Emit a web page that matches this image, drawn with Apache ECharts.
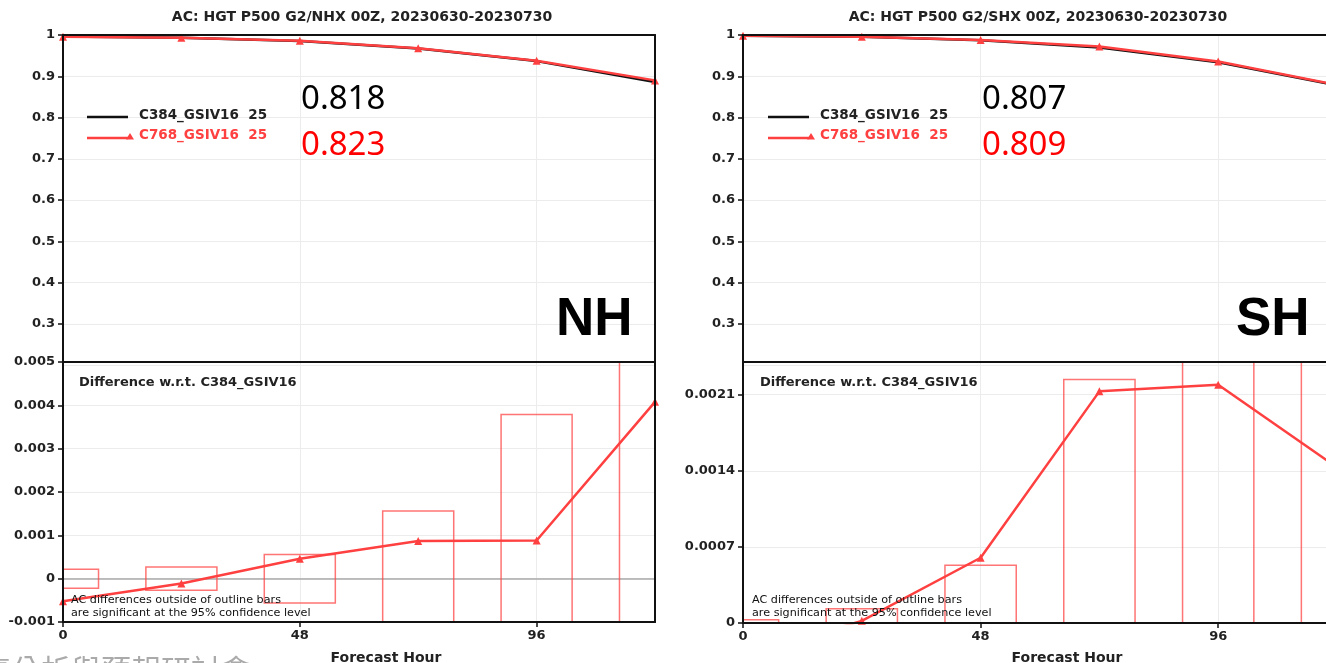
<!DOCTYPE html>
<html>
<head>
<meta charset="utf-8">
<script src="https://cdn.jsdelivr.net/npm/echarts@6/dist/echarts.min.js"></script>
<style>html,body{margin:0;padding:0;background:#fff;}#chart{width:1326px;height:663px;}</style>
</head>
<body>
<div id="chart"></div>
<script>
// ---------- data ----------
const hours = [0, 24, 48, 72, 96, 120];
const nhC384 = [0.9965, 0.9936, 0.9855, 0.9671, 0.9367, 0.8859];
const nhC768 = [0.9960, 0.9935, 0.9860, 0.9680, 0.9376, 0.8900];
const nhDiff = [-0.00052, -0.00011, 0.00046, 0.00087, 0.00088, 0.00408];
const nhSig  = [0.00022, 0.00027, 0.00056, 0.00156, 0.00379, 0.0056];
const shC384 = [0.9983, 0.9960, 0.9874, 0.9699, 0.9338, 0.8776];
const shC768 = [0.9980, 0.9960, 0.9880, 0.9720, 0.9360, 0.8790];
const shDiff = [-0.0003, 0.00002, 0.00060, 0.00213, 0.00219, 0.00143];
const shSig  = [0.00003, 0.00013, 0.00053, 0.00224, 0.0030, 0.0030];
const xTicks = [0, 48, 96];
const acTicks = [0.3, 0.4, 0.5, 0.6, 0.7, 0.8, 0.9, 1];
const nhDiffTicks = [-0.001, 0, 0.001, 0.002, 0.003, 0.004, 0.005];
const shDiffTicks = [0, 0.0007, 0.0014, 0.0021];
const nhTitle = 'AC: HGT P500 G2/NHX 00Z, 20230630-20230730';
const shTitle = 'AC: HGT P500 G2/SHX 00Z, 20230630-20230730';
const seriesNames = ['C384_GSIV16  25', 'C768_GSIV16  25'];
const nhScores = ['0.818', '0.823'];
const shScores = ['0.807', '0.809'];
const diffLabel = 'Difference w.r.t. C384_GSIV16';
const noteLines = ['AC differences outside of outline bars', 'are significant at the 95% confidence level'];
const xName = 'Forecast Hour';
const footer = '氣分析與預報研討會';

// ---------- style ----------
const RED = '#ff4040';
const BAR_RED = 'rgba(255,70,70,0.75)';
const TICK_FONT = 'DejaVu Sans';
const BAR_HALF = 7.2;

const zip = (a, b) => a.map((v, i) => [v, b[i]]);
const fmt = v => String(Math.round(v * 1e6) / 1e6);

const chart = echarts.init(document.getElementById('chart'), null, {renderer: 'canvas'});

const grids = [
  {left: 63, top: 35, width: 592, height: 330},
  {left: 63, top: 362, width: 592, height: 260},
  {left: 743, top: 35, width: 594, height: 330},
  {left: 743, top: 362, width: 594, height: 261}
].map(g => Object.assign({outerBoundsMode: 'none', containLabel: false, show: false}, g));

const axisLineBlack = {show: true, onZero: false, lineStyle: {color: '#111', width: 2}};
const split = {show: true, lineStyle: {color: '#ececec', width: 1}};
const labelStyle = {color: '#222', fontFamily: TICK_FONT, fontWeight: 'bold', fontSize: 13};
const tickStyle = {show: true, inside: false, length: 5, lineStyle: {color: '#111', width: 1.5}};
const none = {show: false};

// axis index layout per grid: x: [main, top border, split], y: [main, right border, split]
const xAxes = [], yAxes = [];
[0, 1, 2, 3].forEach(gi => {
  const isTop = gi % 2 === 0;
  const xBase = {gridIndex: gi, type: 'value', min: 0, max: 120, interval: 48};
  xAxes.push(Object.assign({}, xBase, {
    position: 'bottom', z: 10,
    axisLine: isTop ? {show: false, onZero: false} : axisLineBlack,
    axisTick: isTop ? none : Object.assign({customValues: xTicks}, tickStyle),
    axisLabel: isTop ? none : Object.assign({margin: 7, customValues: xTicks, formatter: v => fmt(v)}, labelStyle),
    splitLine: none
  }));
  xAxes.push(Object.assign({}, xBase, {position: 'top', z: 10,
    axisLine: axisLineBlack, axisTick: none, axisLabel: none, splitLine: none}));
  xAxes.push(Object.assign({}, xBase, {position: 'bottom', z: 0,
    axisLine: {show: false, onZero: false}, axisTick: none, axisLabel: none, splitLine: split}));

  let yCfg;
  if (isTop) yCfg = {min: 0.2, max: 1, interval: 0.1, ticks: acTicks};
  else if (gi === 1) yCfg = {min: -0.001, max: 0.005, interval: 0.001, ticks: nhDiffTicks};
  else yCfg = {min: 0, max: 0.0024, interval: 0.0007, ticks: shDiffTicks};
  const yBase = {gridIndex: gi, type: 'value', min: yCfg.min, max: yCfg.max, interval: yCfg.interval};
  yAxes.push(Object.assign({}, yBase, {
    position: 'left', z: 10,
    axisLine: axisLineBlack,
    axisTick: Object.assign({customValues: yCfg.ticks}, tickStyle),
    axisLabel: Object.assign({margin: 8, customValues: yCfg.ticks, formatter: v => fmt(v)}, labelStyle),
    splitLine: none
  }));
  yAxes.push(Object.assign({}, yBase, {position: 'right', z: 10,
    axisLine: axisLineBlack, axisTick: none, axisLabel: none, splitLine: none}));
  yAxes.push(Object.assign({}, yBase, {position: 'left', z: 0,
    axisLine: {show: false, onZero: false}, axisTick: none, axisLabel: none, splitLine: split}));
});

const ax = gi => ({xAxisIndex: gi * 3, yAxisIndex: gi * 3});

function acLines(gi, c384, c768) {
  return [
    Object.assign(ax(gi), {type: 'line', name: seriesNames[0],
     data: zip(hours, c384), symbol: 'none', lineStyle: {color: '#111', width: 2.5}, z: 3}),
    Object.assign(ax(gi), {type: 'line', name: seriesNames[1],
     data: zip(hours, c768), symbol: 'triangle', symbolSize: 8,
     itemStyle: {color: RED}, lineStyle: {color: RED, width: 2.5}, z: 4})
  ];
}

function diffSeries(gi, diff, sig, zeroLine) {
  const out = [
    Object.assign(ax(gi), {type: 'custom', data: zip(hours, sig), z: 2,
     renderItem: (params, api) => {
       const x = api.value(0), v = api.value(1);
       const p1 = api.coord([x - BAR_HALF, v]);
       const p2 = api.coord([x + BAR_HALF, -v]);
       const cs = params.coordSys;
       const rect = echarts.graphic.clipRectByRect(
         {x: p1[0], y: p1[1], width: p2[0] - p1[0], height: p2[1] - p1[1]},
         {x: cs.x, y: cs.y, width: cs.width, height: cs.height});
       if (!rect) return null;
       return {type: 'rect', shape: rect, style: {fill: 'none', stroke: BAR_RED, lineWidth: 1.5}};
     }}),
    Object.assign(ax(gi), {type: 'line', data: zip(hours, diff),
     symbol: 'triangle', symbolSize: 8, itemStyle: {color: RED}, lineStyle: {color: RED, width: 2.5}, z: 4})
  ];
  if (zeroLine) {
    out[1].markLine = {symbol: 'none', silent: true, label: {show: false}, animation: false, z: 1,
      lineStyle: {color: '#aaa', width: 1.5, type: 'solid'}, data: [{yAxis: 0}]};
  }
  return out;
}

const txt = (x, y, text, style) => ({type: 'text', x, y, silent: true, z: 100,
  style: Object.assign({text, fill: '#222', fontFamily: TICK_FONT, fontWeight: 'bold', fontSize: 12}, style)});

function panelGraphics(dx, title, titleCx, scores, region, regionX, fcx) {
  const g = [];
  g.push(txt(titleCx, 17, title, {align: 'center', verticalAlign: 'middle', fontSize: 14}));
  g.push({type: 'line', silent: true, z: 100, shape: {x1: 87 + dx, y1: 117, x2: 128 + dx, y2: 117}, style: {stroke: '#111', lineWidth: 2.5}});
  g.push(txt(139 + dx, 115, seriesNames[0], {verticalAlign: 'middle', fontSize: 13.5, fill: '#222'}));
  g.push({type: 'line', silent: true, z: 100, shape: {x1: 87 + dx, y1: 138, x2: 128 + dx, y2: 138}, style: {stroke: RED, lineWidth: 2.5}});
  g.push({type: 'polygon', silent: true, z: 100, shape: {points: [[130 + dx, 133], [126 + dx, 139.5], [134 + dx, 139.5]]}, style: {fill: RED}});
  g.push(txt(139 + dx, 135, seriesNames[1], {verticalAlign: 'middle', fontSize: 13.5, fill: RED}));
  g.push(txt(301 + dx, 100, scores[0], {verticalAlign: 'middle', fontFamily: 'Noto Sans', fontWeight: 'normal', fontSize: 33, fill: '#000'}));
  g.push(txt(301 + dx, 146, scores[1], {verticalAlign: 'middle', fontFamily: 'Noto Sans', fontWeight: 'normal', fontSize: 33, fill: '#ff0000'}));
  g.push(txt(regionX, 320, region, {verticalAlign: 'middle', fontFamily: 'Liberation Sans', fontWeight: 'bold', fontSize: 53, fill: '#000'}));
  g.push(txt(79 + dx, 383, diffLabel, {verticalAlign: 'middle', fontSize: 13, fill: '#222'}));
  g.push(txt(71 + dx, 600, noteLines[0], {verticalAlign: 'middle', fontSize: 11.2, fontWeight: 'normal', fill: '#111'}));
  g.push(txt(71 + dx, 613, noteLines[1], {verticalAlign: 'middle', fontSize: 11.2, fontWeight: 'normal', fill: '#111'}));
  g.push(txt(fcx, 658, xName, {align: 'center', verticalAlign: 'middle', fontSize: 14}));
  return g;
}

const graphics = [].concat(
  panelGraphics(0, nhTitle, 362, nhScores, 'NH', 556, 386),
  panelGraphics(681, shTitle, 1038, shScores, 'SH', 1236, 1067),
  [txt(-19, 655, footer, {verticalAlign: 'top', fontFamily: 'Noto Sans CJK TC', fontWeight: 'normal', fontSize: 30, fill: '#aaa'})]
);

chart.setOption({
  animation: false,
  backgroundColor: '#fff',
  grid: grids,
  xAxis: xAxes,
  yAxis: yAxes,
  series: [].concat(
    acLines(0, nhC384, nhC768),
    diffSeries(1, nhDiff, nhSig, true),
    acLines(2, shC384, shC768),
    diffSeries(3, shDiff, shSig, false)
  ),
  graphic: graphics
});
</script>
</body>
</html>
